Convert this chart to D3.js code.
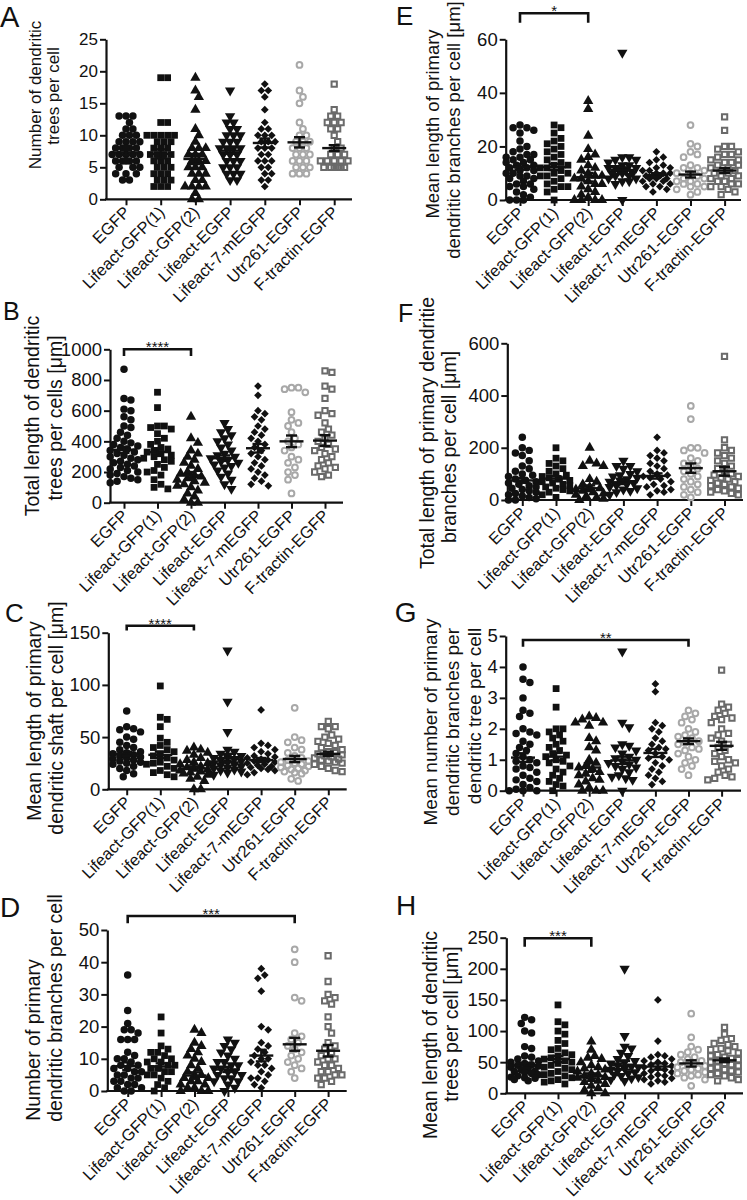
<!DOCTYPE html>
<html><head><meta charset="utf-8">
<script src="https://cdn.jsdelivr.net/npm/d3@7"></script>
<style>body{margin:0;background:#fff} text{font-family:Arial,"Liberation Sans",Helvetica,sans-serif;fill:#111}</style>
</head><body><svg id="c" width="747" height="1200"></svg>
<script>
const categories = ["EGFP","Lifeact-GFP(1)","Lifeact-GFP(2)","Lifeact-EGFP","Lifeact-7-mEGFP","Utr261-EGFP","F-tractin-EGFP"];

// Panel A: Number of dendritic trees per cell
const dataA = [
 [13,13,13,12,11,11,10,10,10,9,9,9,9,8,8,8,8,8,7,7,7,7,7,6,6,6,6,6,5,5,5,4,4,4,3,3],
 [19,19,12,12,10,10,10,10,10,9,9,9,8,8,8,7,7,7,7,6,6,6,5,5,5,4,4,4,3,3,3,2,2,2],
 [19,17,16,14,11,10,9,8,8,8,7,7,7,6,6,6,5,5,5,4,4,4,3,3,2,2,2,2,1,0,0],
 [17,13,12,12,11,11,10,10,10,9,9,9,8,8,8,8,7,7,7,6,6,6,5,5,5,4,4,4,3,3],
 [18,17,17,16,14,12,11,11,10,10,10,9,9,9,8,8,8,7,7,6,6,6,5,5,4,4,3,3,2],
 [21,17,16,15,12,11,10,10,9,9,9,8,8,8,7,7,7,6,6,6,5,5,5,4,4,4],
 [18,14,13,13,12,12,12,11,11,10,9,8,8,7,7,7,6,6,6,6,6,5,5,5,5,5,5]
];
const meanA = [7.3,7.1,6.3,7.6,8.8,8.9,8.0];
const semA  = [0.4,0.7,0.8,0.5,0.7,0.8,0.45];
const ticksA = [0,5,10,15,20,25];

// Panel E: Mean length of primary dendritic branches per cell
const dataE = [
 [28,27,27,26,25,22,20,19,18,17,17,16,16,15,15,14,14,13,13,12,12,11,11,10,10,9,9,8,8,7,6,6,5,5,4,3,2,1,0,0,0],
 [28,27,25,23,22,21,20,19,18,17,16,15,14,13,13,12,12,11,10,10,9,9,8,7,6,5,5,4,3,0],
 [37,34,24,19,17,16,15,13,12,11,10,9,9,8,8,7,6,6,5,4,3,2,1,0,0,0,0],
 [55,16,16,15,15,14,13,13,12,12,12,11,11,10,10,10,9,9,8,8,7,7,6,0],
 [18,16,15,14,13,12,12,11,11,10,10,10,9,9,9,8,8,8,7,7,6,6,5,5,4,3],
 [28,21,20,18,17,16,13,12,12,11,10,10,9,8,8,7,7,6,6,5,5,4,3,2],
 [31,26,20,20,19,18,17,17,16,15,15,14,14,13,13,12,12,11,11,10,10,9,9,8,8,7,7,6,6,5,5,4,3,2]
];
const meanE = [12.3,12.3,8.5,11.2,9.3,9.5,11.0];
const semE  = [1.0,1.1,1.6,1.0,0.7,1.1,0.9];
const ticksE = [0,20,40,60];

// Panel B: Total length of dendritic trees per cell
const dataB = [
 [870,680,670,610,600,560,540,500,490,460,440,420,400,390,380,370,360,350,340,330,320,310,300,290,280,270,260,250,240,230,220,210,200,190,180,170,160,150,140,130],
 [720,620,500,500,490,480,450,420,400,380,360,350,340,330,320,310,300,290,280,270,250,230,210,200,180,150,120,100,90],
 [560,420,390,340,320,300,280,260,240,220,200,190,180,170,160,150,140,130,120,110,100,80,60,40,20,0,0],
 [520,480,460,440,420,400,380,360,340,320,310,300,290,280,270,260,250,240,230,210,190,170,150,120,90],
 [760,700,600,580,560,540,500,480,460,440,420,400,380,360,340,320,300,280,260,240,220,200,180,160,140,120,110],
 [750,750,740,720,590,540,520,500,460,420,400,380,360,340,300,280,260,230,200,180,150,60],
 [860,850,760,740,680,600,580,570,520,480,460,440,420,400,380,360,350,340,320,300,280,260,240,230,220,200,180,170]
];
const meanB = [345,330,178,290,355,400,405];
const semB  = [20,25,22,18,28,38,35];
const ticksB = [0,200,400,600,800,1000];

// Panel F: Total length of primary dendritic branches per cell
const dataF = [
 [240,200,190,180,170,150,130,120,110,100,95,90,80,75,70,65,60,55,50,45,40,35,30,25,20,15,10,5,0,0],
 [200,160,150,140,130,120,110,100,95,90,85,80,75,70,65,60,55,50,45,40,35,30,20,10],
 [200,150,140,130,130,80,70,60,50,45,40,35,30,25,20,15,10,5,0],
 [150,130,130,120,110,100,95,90,85,80,75,70,65,60,55,50,45,40,35,30,20],
 [240,190,180,170,160,150,140,130,120,110,100,95,90,85,80,70,60,55,50,40,35,30,20],
 [360,310,200,200,190,180,160,150,140,130,120,110,100,90,80,70,60,50,40,30,20,10],
 [550,230,200,190,180,170,160,150,140,130,120,110,100,95,90,85,80,75,70,65,60,55,50,45,40,35,30,25,20]
];
const meanF = [75,82,45,68,92,122,110];
const semF  = [9,9,11,7,10,18,17];
const ticksF = [0,200,400,600];

// Panel C: Mean length of primary dendritic shaft per cell
const dataC = [
 [75,60,58,57,55,50,48,45,42,40,38,36,35,34,33,32,31,30,29,28,27,26,25,24,22,20,18,15,12],
 [99,69,67,60,49,45,42,40,38,36,34,32,30,28,26,25,24,22,20,18,16,14,12],
 [40,38,37,35,33,30,28,26,25,24,22,21,20,19,18,17,16,15,14,12,10,8,0,0],
 [133,84,55,38,36,34,32,31,30,29,28,27,26,25,24,23,22,21,20,19,18,17,16,14],
 [76,44,42,40,38,36,34,32,31,30,29,28,27,26,25,24,23,22,21,20,19,18,16,14],
 [78,50,47,45,40,38,35,32,30,28,27,26,25,24,23,22,21,20,19,18,17,16,15,10,8],
 [65,60,60,58,52,50,48,46,44,42,40,38,36,35,34,33,32,31,30,29,28,27,26,25,24,22,20,18,17]
];
const meanC = [34,33,20,30,28,29,34];
const semC  = [2,3,2,4,2,3,2];
const ticksC = [0,50,100,150];

// Panel G: Mean number of primary dendritic branches per dendritic tree per cell
const dataG = [
 [4.0,3.6,3.5,3.0,2.6,2.5,2.4,2.0,1.9,1.85,1.8,1.6,1.5,1.4,1.3,1.2,1.1,1.0,0.95,0.9,0.8,0.75,0.7,0.6,0.5,0.4,0.35,0.3,0.2,0.1,0.05,0,0,0],
 [3.3,2.7,2.0,2.0,1.9,1.8,1.7,1.6,1.5,1.4,1.3,1.2,1.15,1.1,1.0,0.95,0.9,0.8,0.7,0.6,0.5,0.4,0.3,0.2,0.15,0],
 [2.4,2.35,2.3,2.2,2.2,2.1,1.7,1.6,1.4,1.3,1.0,0.9,0.8,0.75,0.7,0.6,0.55,0.5,0.4,0.35,0.3,0.2,0.1,0,0,0],
 [4.5,2.2,2.05,1.5,1.45,1.4,1.3,1.2,1.1,1.05,1.0,0.95,0.9,0.85,0.8,0.75,0.7,0.6,0.5,0.45,0.4,0.35,0],
 [3.45,3.2,2.2,2.1,2.0,1.9,1.7,1.6,1.5,1.4,1.35,1.3,1.2,1.1,1.05,1.0,0.9,0.8,0.7,0.6,0.5,0.4,0.3,0.2],
 [2.6,2.5,2.4,2.3,2.2,2.0,1.9,1.8,1.75,1.7,1.6,1.55,1.5,1.4,1.35,1.3,1.2,1.1,1.0,0.9,0.8,0.7,0.5],
 [3.9,2.8,2.7,2.6,2.5,2.4,2.35,2.3,2.2,2.0,1.85,1.8,1.7,1.6,1.5,1.4,1.3,1.2,1.1,1.0,0.95,0.9,0.8,0.7,0.6,0.5,0.45,0.4,0.35]
];
const meanG = [1.07,1.1,0.75,0.98,1.22,1.6,1.45];
const semG  = [0.14,0.12,0.14,0.12,0.13,0.09,0.13];
const ticksG = [0,1,2,3,4,5];

// Panel D: Number of primary dendritic branches per cell
const dataD = [
 [36,25,21,19,19,18,16,16,16,12,11,10,10,9,8,8,7,7,6,6,5,5,4,4,3,3,2,2,1,1,0,0],
 [23,18,14,13,12,12,11,10,10,9,9,8,8,7,7,6,6,5,5,4,3,2,1,0],
 [19,18,15,14,13,12,11,10,9,8,7,6,5,5,4,4,3,3,2,2,1,1,0,0,0],
 [16,15,14,13,12,11,10,9,9,8,8,7,7,6,6,5,5,4,4,3,3,2,1,0],
 [38,36,35,31,20,19,15,14,13,12,11,10,10,9,8,8,7,6,5,4,4,3,2,1],
 [44,40,29,28,18,17,16,15,14,13,12,11,10,9,8,7,6,4],
 [42,34,30,29,28,27,23,20,18,15,14,13,12,11,10,10,9,8,8,7,6,6,5,5,4,4,3,2]
];
const meanD = [7.7,7.6,4.8,6.7,11,14.5,12.5];
const semD  = [1.2,1.0,1.0,0.8,1.8,2.0,1.8];
const ticksD = [0,10,20,30,40,50];

// Panel H: Mean length of dendritic trees per cell
const dataH = [
 [122,118,112,100,97,75,72,60,58,55,52,50,48,46,45,44,42,40,38,36,35,34,32,30,28,26,25,24,22,20],
 [142,115,110,100,95,85,80,72,70,65,62,60,57,55,52,50,48,45,42,40,38,35,32,30,28,25,22,20,18,15],
 [83,70,60,57,55,50,45,42,40,38,35,32,30,28,26,25,23,20,18,15,12,8,5,0,0],
 [200,92,75,72,65,60,55,52,50,48,45,43,42,40,38,36,34,32,30,28,26,24,22,20],
 [150,84,62,60,58,55,52,50,48,46,44,42,40,38,36,34,32,30,28,26,24,22,20,18,15],
 [128,90,75,70,66,62,58,55,52,50,48,46,44,42,40,38,36,34,32,30,28,25,22,12],
 [106,95,88,85,80,78,75,72,70,68,65,62,60,58,56,54,52,50,48,46,44,42,40,38,36,34,32,30,28,25,22,20]
];
const meanH = [45,55,28,45,43,48,53];
const semH  = [4,5,4,7,5,5,3];
const ticksH = [0,50,100,150,200,250];

// ---- layout (positions only) ----
const panels = [
 {L:"A", data:dataA, mean:meanA, sem:semA, ticks:ticksA, title:["Number of dendritic","trees per cell"],
  ax:106, y0:199.3, y1:39.3, xEnd:352, c0:126, step:34.7, letter:[0,27,29], tfs:17, kfs:17,
  tpos:[[41,95],[59,96]], br:null},
 {L:"E", data:dataE, mean:meanE, sem:semE, ticks:ticksE, title:["Mean length of primary","dendritic branches per cell [μm]"],
  ax:505.7, y0:200, y1:39.3, xEnd:741, c0:520, step:34.1, letter:[396,25,26], tfs:18.5, kfs:18.5,
  tpos:[[439,124],[460,130]], br:{a:0,b:2,top:13.3,bot:22.7,s:"*"}},
 {L:"B", data:dataB, mean:meanB, sem:semB, ticks:ticksB, title:["Total length of dendritic","trees per cells [μm]"],
  ax:110, y0:502.7, y1:349.3, xEnd:343, c0:124, step:33.5, letter:[3,320,25], tfs:19.5, kfs:18.5,
  tpos:[[39,416],[62,418]], br:{a:0,b:2,top:349.3,bot:356,s:"****"}},
 {L:"F", data:dataF, mean:meanF, sem:semF, ticks:ticksF, title:["Total length of primary dendritie","branches per cell [μm]"],
  ax:507.3, y0:500, y1:343.3, xEnd:743, c0:522.3, step:33.7, letter:[398,321.7,25], tfs:19.5, kfs:18.5,
  tpos:[[434,433],[456,447]], br:null},
 {L:"C", data:dataC, mean:meanC, sem:semC, ticks:ticksC, title:["Mean length of primary","dendritic shaft per cell [μm]"],
  ax:108.3, y0:789.3, y1:632.7, xEnd:346.7, c0:126.7, step:33.6, letter:[5,621.7,26], tfs:19.5, kfs:18.5,
  tpos:[[41,721],[63,718]], br:{a:0,b:2,top:625.7,bot:630.5,s:"****"}},
 {L:"G", data:dataG, mean:meanG, sem:semG, ticks:ticksG, title:["Mean number of primary","dendritic branches per","dendritic tree per cell"],
  ax:505.7, y0:790.7, y1:636, xEnd:741, c0:523, step:33.1, letter:[394.7,621.7,28], tfs:19, kfs:18.5,
  tpos:[[437,722],[458.5,722],[480.5,716]], br:{a:0,b:5,top:640,bot:646.7,s:"**"}},
 {L:"D", data:dataD, mean:meanD, sem:semD, ticks:ticksD, title:["Number of primary","dendritic branches per cell"],
  ax:107.3, y0:1091, y1:930, xEnd:346.7, c0:127.7, step:33.4, letter:[0,916.7,28], tfs:19.5, kfs:18.5,
  tpos:[[39.5,1040],[62,1008]], br:{a:0,b:5,top:916,bot:923.3,s:"***"}},
 {L:"H", data:dataH, mean:meanH, sem:semH, ticks:ticksH, title:["Mean length of dendritic","trees per cell [μm]"],
  ax:506.3, y0:1093.3, y1:937.7, xEnd:743, c0:524.7, step:33.3, letter:[396,915,28], tfs:19.5, kfs:18.5,
  tpos:[[437,1035],[458,1024]], br:{a:0,b:2,top:938.3,bot:946.7,s:"***"}}
];

const markers = [
 {type:d3.symbolCircle, size:44, fill:"#111", stroke:"none", sw:0, rot:0},
 {type:d3.symbolSquare, size:46, fill:"#111", stroke:"none", sw:0, rot:0},
 {type:d3.symbolTriangle, size:46, fill:"#111", stroke:"none", sw:0, rot:0},
 {type:d3.symbolTriangle, size:46, fill:"#111", stroke:"none", sw:0, rot:180},
 {type:d3.symbolSquare, size:30, fill:"#111", stroke:"none", sw:0, rot:45},
 {type:d3.symbolCircle, size:26, fill:"none", stroke:"#a8a8a8", sw:2, rot:0},
 {type:d3.symbolSquare, size:28, fill:"none", stroke:"#6a6a6a", sw:2, rot:0}
];

// beeswarm placement, capped width (points overlap when the column is full)
function swarm(vals, y, d, maxW){
  const placed = [];
  const sorted = vals.map(v => ({v, py:y(v)})).sort((a,b) => a.py - b.py);
  const cands = [0];
  for (let k = 1; k * d / 2 <= maxW; k++){ cands.push(k*d/2, -k*d/2); }
  for (const p of sorted){
    let best = null, bestScore = -1;
    for (const off of cands){
      let md = Infinity;
      for (const q of placed){ const dd = (q.dx-off)**2 + (q.py-p.py)**2; if (dd < md) md = dd; }
      if (md >= d*d*0.9){ best = off; bestScore = Infinity; break; }
      if (md > bestScore){ bestScore = md; best = off; }
    }
    p.dx = best; placed.push(p);
  }
  return placed;
}

const svg = d3.select("#c");
panels.forEach(P => {
  const g = svg.append("g");
  const ymax = P.ticks[P.ticks.length-1];
  const y = d3.scaleLinear().domain([0, ymax]).range([P.y0, P.y1]);
  const x = d3.scalePoint().domain(categories).range([P.c0, P.c0 + 6*P.step]);

  g.append("text").attr("x", P.letter[0]).attr("y", P.letter[1]).attr("font-size", P.letter[2]).text(P.L);

  P.title.forEach((t,i) => {
    g.append("text").attr("transform", `translate(${P.tpos[i][0]},${P.tpos[i][1]}) rotate(-90)`)
     .attr("text-anchor","middle").attr("font-size", P.tfs).text(t);
  });

  const ya = g.append("g").attr("transform", `translate(${P.ax},0)`)
    .call(d3.axisLeft(y).tickValues(P.ticks).tickSize(6).tickSizeOuter(0).tickPadding(2).tickFormat(d3.format("d")));
  ya.select(".domain").attr("stroke","#111").attr("stroke-width",2.2);
  ya.selectAll(".tick line").attr("stroke","#111").attr("stroke-width",2);
  ya.selectAll(".tick text").attr("font-size", P.kfs).attr("font-family","Arial, 'Liberation Sans', sans-serif").attr("fill","#111");

  const xa = g.append("g").attr("transform", `translate(0,${P.y0})`)
    .call(d3.axisBottom(x).tickSize(6).tickFormat(""));
  xa.select(".domain").remove();
  xa.selectAll(".tick line").attr("stroke","#111").attr("stroke-width",2);
  g.append("line").attr("x1", P.ax - 1).attr("x2", P.xEnd).attr("y1", P.y0).attr("y2", P.y0)
    .attr("stroke","#111").attr("stroke-width",2.2);
  categories.forEach(c => {
    g.append("text").attr("transform", `translate(${x(c)+5},${P.y0+14}) rotate(-45)`)
     .attr("text-anchor","end").attr("font-size",16.5).text(c);
  });

  P.data.forEach((vals, gi) => {
    const m = markers[gi];
    const sym = d3.symbol().type(m.type).size(m.size);
    const pts = swarm(vals, y, 6.9, 14);
    g.append("g").selectAll("path").data(pts).join("path")
      .attr("d", sym)
      .attr("transform", d => `translate(${x(categories[gi]) + d.dx},${d.py}) rotate(${m.rot})`)
      .attr("fill", m.fill).attr("stroke", m.stroke).attr("stroke-width", m.sw);
    const cx = x(categories[gi]), mn = P.mean[gi], se = P.sem[gi];
    const eg = g.append("g").attr("stroke","#111").attr("stroke-width",2.4);
    eg.append("line").attr("x1",cx-12).attr("x2",cx+12).attr("y1",y(mn)).attr("y2",y(mn));
    eg.append("line").attr("x1",cx).attr("x2",cx).attr("y1",y(mn-se)).attr("y2",y(mn+se));
    eg.append("line").attr("x1",cx-5.5).attr("x2",cx+5.5).attr("y1",y(mn-se)).attr("y2",y(mn-se));
    eg.append("line").attr("x1",cx-5.5).attr("x2",cx+5.5).attr("y1",y(mn+se)).attr("y2",y(mn+se));
  });

  if (P.br){
    const xa0 = x(categories[P.br.a]), xb0 = x(categories[P.br.b]);
    g.append("path").attr("d", `M${xa0},${P.br.bot}V${P.br.top}H${xb0}V${P.br.bot}`)
      .attr("fill","none").attr("stroke","#111").attr("stroke-width",2.6);
    g.append("text").attr("x",(xa0+xb0)/2).attr("y",P.br.top + 3).attr("text-anchor","middle")
      .attr("font-size",15).text(P.br.s);
  }
});
</script></body></html>
